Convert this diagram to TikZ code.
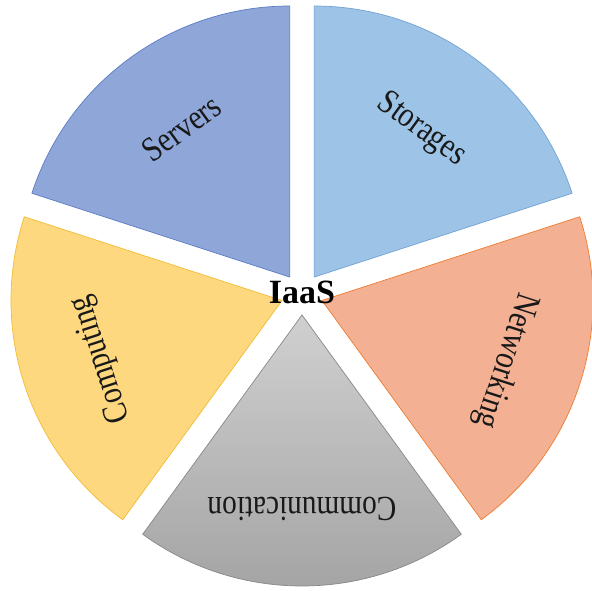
\documentclass[tikz,border=0pt]{standalone}
\usepackage{fontspec}
\setmainfont{Liberation Serif}
\usepackage{graphicx}
\usepackage{tikz}

\definecolor{serv}{HTML}{8FA6D9}
\definecolor{servline}{HTML}{5B7CC4}
\definecolor{stor}{HTML}{9DC3E6}
\definecolor{storline}{HTML}{72A2D6}
\definecolor{netw}{HTML}{F4B092}
\definecolor{netwline}{HTML}{ED7D31}
\definecolor{comp}{HTML}{FED87F}
\definecolor{compline}{HTML}{F2BC35}
\definecolor{commtop}{HTML}{D0D0D0}
\definecolor{commbot}{HTML}{A2A2A2}
\definecolor{commline}{HTML}{888888}

\newcommand{\tallword}[1]{\scalebox{1}[1.2]{#1}}

\tikzset{
  wedge/.style={line width=0.6pt},
  lbl/.style={text=black!90, font=\fontsize{25}{30}\selectfont},
}

\begin{document}
\begin{tikzpicture}[scale=0.03]
\useasboundingbox (-302,-296) rectangle (290,294);

\foreach \m/\fc/\dc in {54/stor/storline, 126/serv/servline, 198/comp/compline, -18/netw/netwline}{
	\draw[wedge, fill=\fc, draw=\dc] (\m:21) -- ++({\m-36}:271) arc[start angle={\m-36}, end angle={\m+36}, radius=271] -- cycle;
	}
\draw[wedge, draw=commline, top color=commtop, bottom color=commbot] (-90:21) -- ++(-126:271) arc[start angle=-126, end angle=-54, radius=271] -- cycle;

\node[lbl, rotate=-36] (storages) at (54:203) {\tallword{Storages}};
\node[lbl, rotate=36] (servers) at (126:205) {\tallword{Servers}};
\node[lbl, rotate=108] (computing) at (198:211) {\tallword{Computing}};
\node[lbl, rotate=-108] (networking) at (-18:214) {\tallword{Networking}};
\node[lbl, rotate=180] (communication) at (-90:215) {\tallword{Communication}};

\node[font=\bfseries\fontsize{29}{34}\selectfont] (iaas) at (0,2) {IaaS};
\end{tikzpicture}
\end{document}
